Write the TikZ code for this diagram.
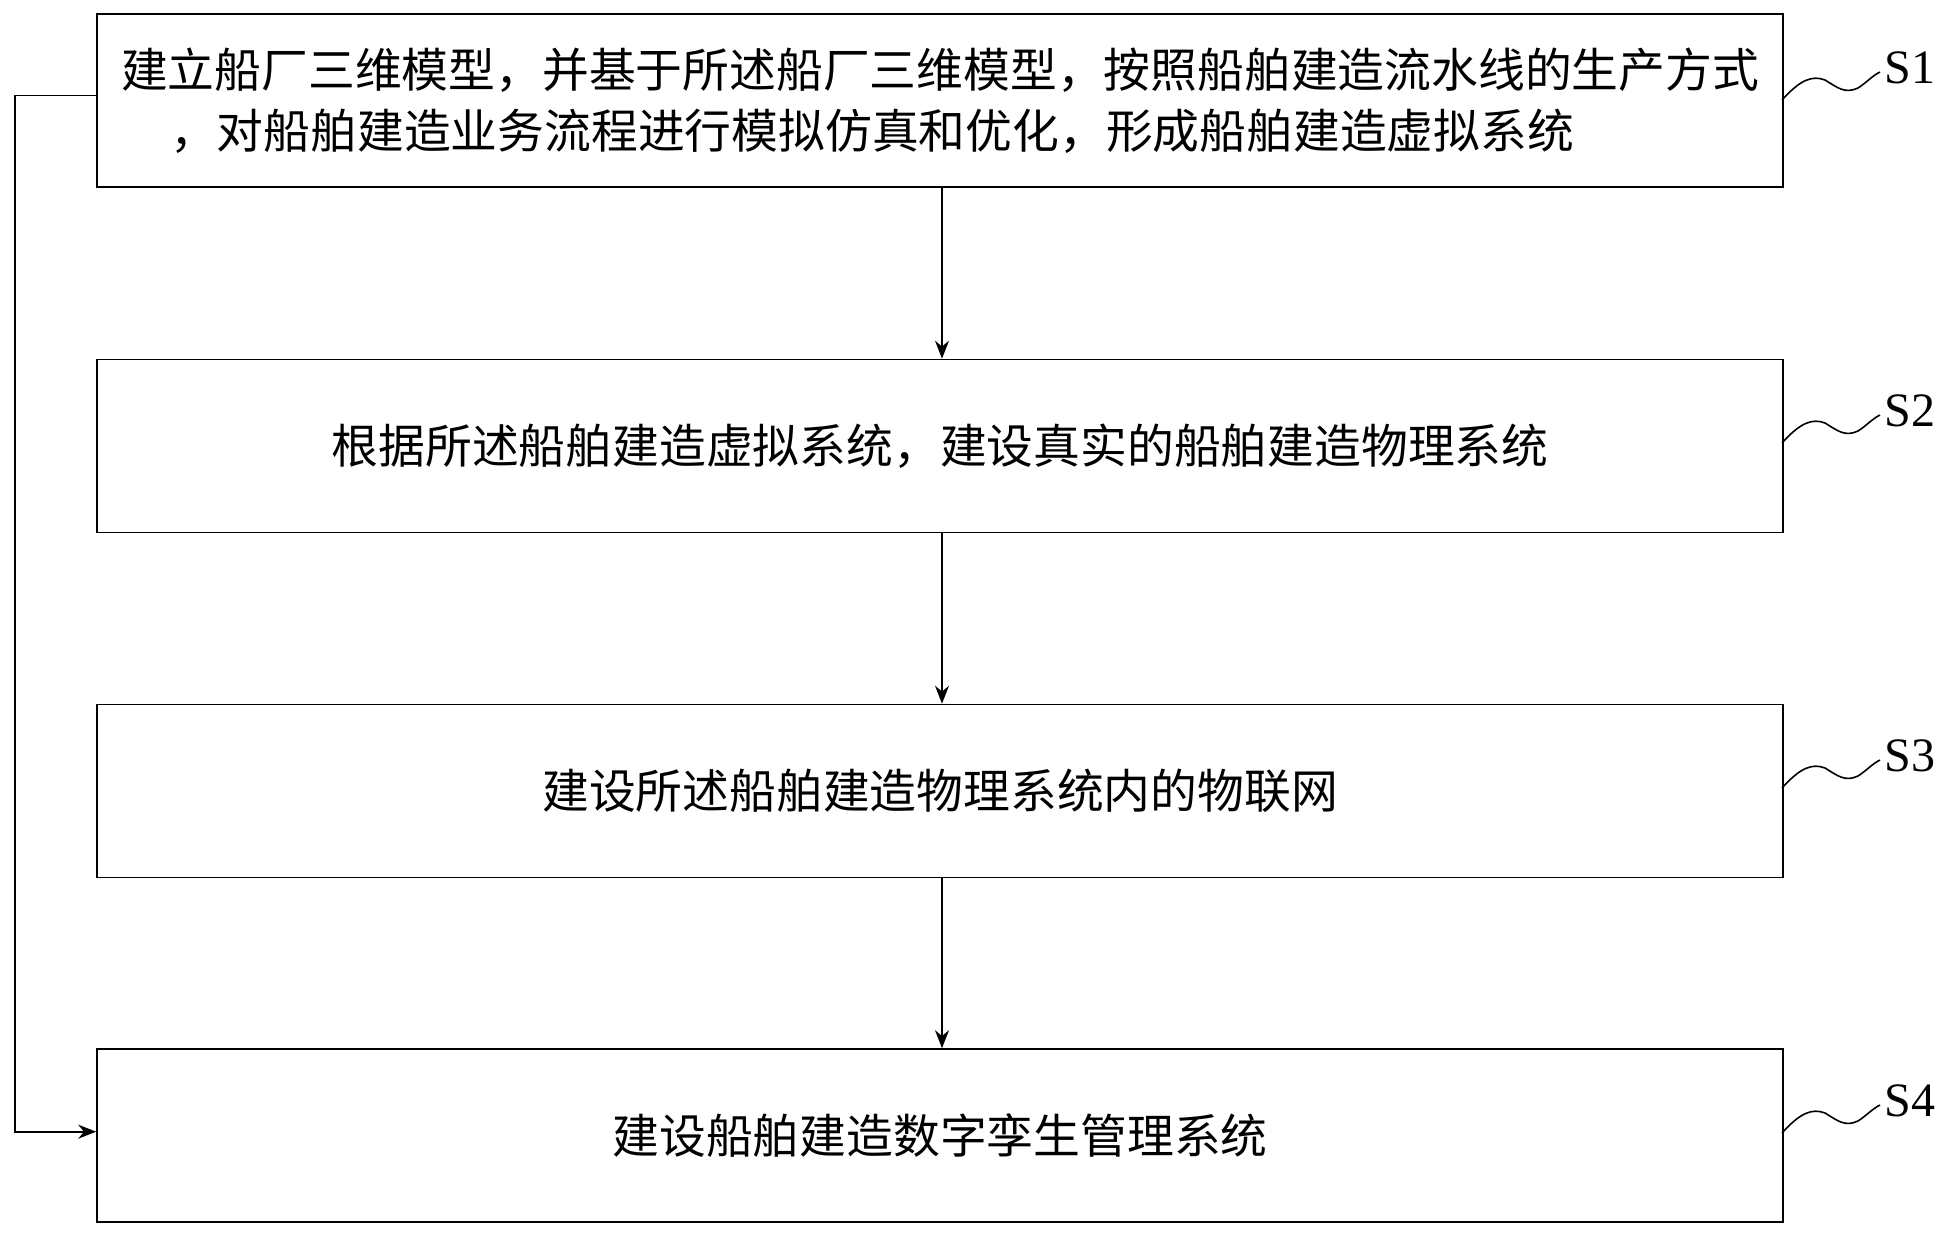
\documentclass[tikz,border=0pt]{standalone}
\usepackage{fontspec}
\usetikzlibrary{arrows.meta}
\newfontfamily\cjk{Noto Sans CJK SC}
\setmainfont{Liberation Serif}
\begin{document}
\begin{tikzpicture}[x=0.5pt,y=-0.5pt,
  stepbox/.style={draw,line width=0.8pt,minimum width=843pt,minimum height=86.5pt,inner sep=0pt,align=center,font=\cjk\fontsize{23.4}{30.5}\selectfont},
  lbl/.style={font=\fontsize{24}{24}\selectfont,anchor=center},
  arr/.style={draw,line width=0.8pt,-{Stealth[length=9pt,width=7pt]}}]
\useasboundingbox (0,0) rectangle (1939,1235);
\node[stepbox] (b1) at (940,100.5) {建立船厂三维模型，并基于所述船厂三维模型，按照船舶建造流水线的生产方式\\，对船舶建造业务流程进行模拟仿真和优化，形成船舶建造虚拟系统\hspace*{2.9em}};
\node[stepbox] (b2) at (940,446) {根据所述船舶建造虚拟系统，建设真实的船舶建造物理系统};
\node[stepbox] (b3) at (940,791) {建设所述船舶建造物理系统内的物联网};
\node[stepbox] (b4) at (940,1135.5) {建设船舶建造数字孪生管理系统};
\draw[arr] (b1.south -| 942,0) -- (b2.north -| 942,0);
\draw[arr] (b2.south -| 942,0) -- (b3.north -| 942,0);
\draw[arr] (b3.south -| 942,0) -- (b4.north -| 942,0);
\coordinate (l1) at (15,95.5);
\coordinate (l2) at (15,1131.7);
\draw[arr] (b1.west |- l1) -- (l1) -- (l2) -- (b4.west |- l2);
\foreach \i/\y in {1/100,2/443,3/788,4/1133}{
  \coordinate (w\i) at (1782,\y);
  \node[lbl] (s\i) at (1910,\y-32) {S\i};
  \draw[line width=0.8pt] (w\i) .. controls (1800,\y-20) and (1812,\y-25) .. (1825,\y-20)
     .. controls (1838,\y-12) and (1845,\y-6) .. (1858,\y-12)
     .. controls (1866,\y-17) and (1872,\y-24) .. (1880,\y-28);
}
\end{tikzpicture}
\end{document}
